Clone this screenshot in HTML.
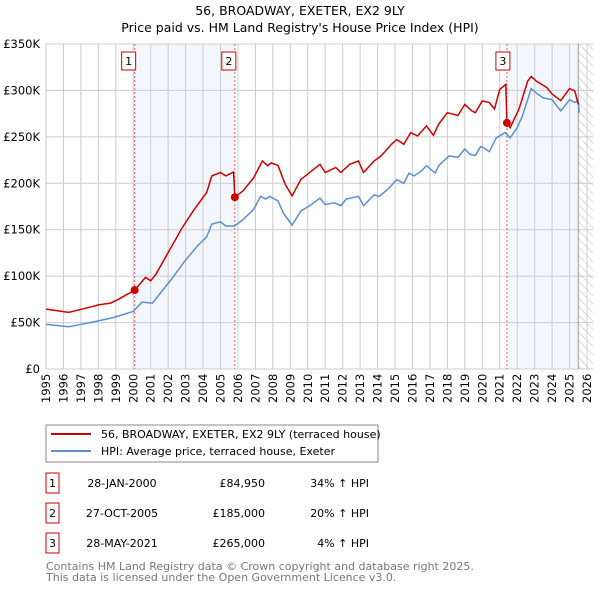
<!DOCTYPE html>
<html><head><meta charset="utf-8"><style>
body{margin:0;background:#fff;font-family:"Liberation Sans","DejaVu Sans",sans-serif;}
svg text{font-family:"DejaVu Sans","Liberation Sans",sans-serif;}
</style></head><body>
<svg id="c" width="600" height="590" xmlns="http://www.w3.org/2000/svg">
<defs><pattern id="hatch" width="6" height="6" patternUnits="userSpaceOnUse" patternTransform="rotate(-45)"><line x1="0" y1="0" x2="0" y2="6" stroke="#bbb" stroke-width="1"/></pattern></defs>
<text x="300" y="15" text-anchor="middle" font-size="12.5" fill="#000">56, BROADWAY, EXETER, EX2 9LY</text>
<text x="300" y="32" text-anchor="middle" font-size="12.5" fill="#000">Price paid vs. HM Land Registry's House Price Index (HPI)</text>
<g id="plot"></g>
<g>
<rect x="46" y="425" width="332" height="37" fill="#fff" stroke="#888"/>
<line x1="51" y1="434" x2="91" y2="434" stroke="#cc0000" stroke-width="2"/>
<text x="101" y="438" font-size="11">56, BROADWAY, EXETER, EX2 9LY (terraced house)</text>
<line x1="51" y1="451" x2="91" y2="451" stroke="#5b8fd0" stroke-width="2"/>
<text x="101" y="455" font-size="11">HPI: Average price, terraced house, Exeter</text>
</g>
<g id="table" font-size="11"></g>
<text x="46" y="570" font-size="11" fill="#777">Contains HM Land Registry data © Crown copyright and database right 2025.</text>
<text x="46" y="581" font-size="11" fill="#777">This data is licensed under the Open Government Licence v3.0.</text>
</svg>
<script>
const hpiYears=[1995,1996.3,1997.8,1998.9,2000,2000.5,2001.1,2002.2,2002.9,2003.7,2004.2,2004.5,2005,2005.3,2005.8,2006.3,2006.9,2007.3,2007.6,2007.8,2008.3,2008.6,2009.1,2009.6,2010.2,2010.7,2011,2011.5,2011.9,2012.2,2012.9,2013.2,2013.8,2014.1,2014.6,2015.1,2015.5,2015.8,2016.1,2016.5,2016.8,2017.3,2017.5,2018.1,2018.6,2019,2019.3,2019.6,2019.9,2020.1,2020.4,2020.8,2021.3,2021.6,2022,2022.3,2022.6,2022.8,2023.1,2023.5,2024,2024.5,2025,2025.3,2025.5,2025.55];
const hpiValues=[48,45.5,51,55.6,62,72,71,97,115,133,142,156,158.5,154,154,161,172,186,183,186,181,168,155,170,177,184,177,179,176,183,186,176,187.5,186,194,204,200,211,208,213,219,211,219,229.5,228,237,231,230,239.5,238,234,249,254.6,249,260,272.5,290,302,297,292,290,278,290,287,289,276];
const priceYears=[1995,1996.3,1997.4,1998,1998.7,1999.1,2000.08,2000.7,2001,2001.3,2002,2002.8,2003.5,2004.2,2004.5,2005,2005.3,2005.75,2005.82,2006.3,2006.9,2007.4,2007.7,2007.9,2008.3,2008.7,2009.1,2009.6,2010.2,2010.7,2011,2011.6,2011.9,2012.4,2012.9,2013.2,2013.8,2014.2,2014.8,2015.1,2015.5,2015.9,2016.3,2016.8,2017.2,2017.5,2018,2018.6,2019,2019.4,2019.6,2020,2020.4,2020.7,2021,2021.35,2021.41,2021.6,2022.1,2022.6,2022.8,2023.1,2023.7,2024,2024.5,2025,2025.3,2025.5];
const priceValues=[64.5,61,66,69,71,74.5,84.95,98.6,95,102,125.5,152,172,190,208,211.6,208,212,185,192,206,224,218.8,222,219,199,186.5,204,213,220.5,211.6,217,211.6,220.5,224,211.6,224,229.5,242,247,242,254.6,251,261.8,251.7,263.6,276,273,285,278,276,288.7,287,280,301,306.6,265,260,279.7,310,315,310,303,296,289,302,299.5,285];
const saleYears=[2000.08,2005.82,2021.41];
const saleValues=[84.95,185,265];
const saleLabels=["1","2","3"];
const saleDates=["28-JAN-2000","27-OCT-2005","28-MAY-2021"];
const salePrices=["£84,950","£185,000","£265,000"];
const saleHpi=["34% ↑ HPI","20% ↑ HPI","4% ↑ HPI"];
const yTicks=[0,50,100,150,200,250,300,350];
const yTickLabels=["£0","£50K","£100K","£150K","£200K","£250K","£300K","£350K"];
const xTicks=[1995,1996,1997,1998,1999,2000,2001,2002,2003,2004,2005,2006,2007,2008,2009,2010,2011,2012,2013,2014,2015,2016,2017,2018,2019,2020,2021,2022,2023,2024,2025,2026];

const X0=46,X1=587,Y0=369,Y1=44;
const xs=y=>X0+(y-1995)/(2026-1995)*(X1-X0);
const ys=v=>Y0-v/350*(Y0-Y1);
const NS="http://www.w3.org/2000/svg";
const plot=document.getElementById('plot');
function mk(tag,attrs,parent){const e=document.createElementNS(NS,tag);for(const k in attrs)e.setAttribute(k,attrs[k]);(parent||plot).appendChild(e);return e;}

let r=mk('rect',{x:xs(saleYears[0]),y:Y1,width:xs(saleYears[1])-xs(saleYears[0]),height:Y0-Y1,fill:'#eef3fc',opacity:0.7});


r=mk('rect',{x:xs(saleYears[2]),y:Y1,width:xs(2025.5)-xs(saleYears[2]),height:Y0-Y1,fill:'#eef3fc',opacity:0.7});


r=mk('rect',{x:xs(2025.5),y:Y1,width:X1+6-xs(2025.5),height:Y0-Y1,fill:'url(#hatch)'});



xTicks.forEach((t,i)=>{
  const l=mk('line',{x1:xs(t),x2:xs(t),y1:Y1,y2:Y0,stroke:'#ccc','stroke-width':1});
  
  
  const tx=mk('text',{x:0,y:0,'font-size':11.5,transform:`translate(${xs(t)+4},${Y0+34}) rotate(-90)`,'text-anchor':'start'});
  tx.textContent=t;
  
  
});
yTicks.forEach((t,i)=>{
  const l=mk('line',{x1:X0,x2:X1+6,y1:ys(t),y2:ys(t),stroke:'#ccc','stroke-width':1});
  
  
  const tx=mk('text',{x:X0-6,y:ys(t)+4,'font-size':11.5,'text-anchor':'end'});
  tx.textContent=yTickLabels[i];
  
  
});
let ax=mk('line',{x1:xs(2025.5),x2:xs(2025.5),y1:Y1,y2:Y0,stroke:'#999','stroke-width':1});



saleYears.forEach((s,i)=>{
  const l=mk('line',{x1:xs(s),x2:xs(s),y1:Y1,y2:Y0,stroke:'#e06060','stroke-width':1,'stroke-dasharray':'2,2'});
  
  
});

function pathOf(xa,va){return xa.map((y,i)=>(i?'L':'M')+xs(y).toFixed(1)+','+ys(va[i]).toFixed(1)).join('');}
let p=mk('path',{d:pathOf(hpiYears,hpiValues),fill:'none',stroke:'#5b8fd0','stroke-width':1.5});


p=mk('path',{d:pathOf(priceYears,priceValues),fill:'none',stroke:'#cc0000','stroke-width':1.5});



saleYears.forEach((s,i)=>{
  const c=mk('circle',{cx:xs(s),cy:ys(saleValues[i]),r:4,fill:'#cc0000'});
  
  
  const bx=xs(s)-(i<2?6:4);
  const b=mk('rect',{x:bx-7,y:52,width:14,height:18,fill:'#fff',stroke:'#cc0000'});
  
  
  const t=mk('text',{x:bx,y:65,'font-size':11,'text-anchor':'middle'});
  t.textContent=saleLabels[i];
  
  
});

const tb=document.getElementById('table');
saleYears.forEach((s,i)=>{
  const y=483+i*30;
  const b=mk('rect',{x:46,y:y-10,width:13,height:20,fill:'#fff',stroke:'#cc0000'},tb);
  
  
  const cells=[[52.5,saleLabels[i],'middle'],[122,saleDates[i],'middle'],[265,salePrices[i],'end'],[369,saleHpi[i],'end']];
  cells.forEach(cl=>{
    const t=mk('text',{x:cl[0],y:y+4,'text-anchor':cl[2]},tb);
    t.textContent=cl[1];
    
    
  });
});
</script>
</body></html>
